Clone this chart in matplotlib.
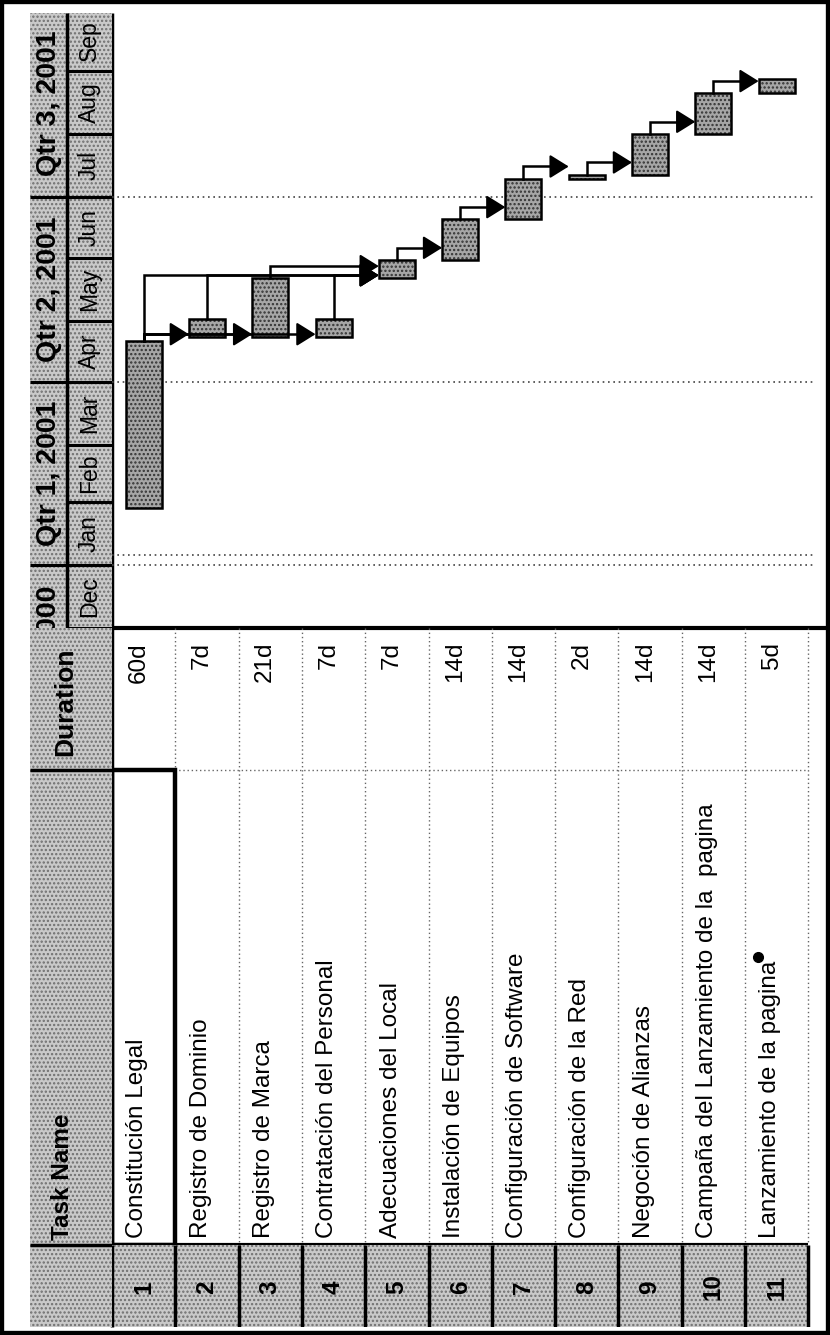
import numpy as np
import matplotlib
matplotlib.use("Agg")
import matplotlib.pyplot as plt
import matplotlib.dates as mdates
from matplotlib.patches import Rectangle

plt.rcParams['font.family'] = ['Liberation Sans', 'DejaVu Sans']
plt.rcParams['hatch.linewidth'] = 1.1

# --- datos del proyecto ---
tareas = ["Constitución Legal", "Registro de Dominio", "Registro de Marca",
          "Contratación del Personal", "Adecuaciones del Local",
          "Instalación de Equipos", "Configuración de Software",
          "Configuración de la Red", "Negoción de Alianzas",
          "Campaña del Lanzamiento de la  pagina", "Lanzamiento de la pagina"]
duracion = [60, 7, 21, 7, 7, 14, 14, 2, 14, 14, 5]
inicio = ["2001-01-29", "2001-04-23", "2001-04-23", "2001-04-23", "2001-05-22",
          "2001-05-31", "2001-06-20", "2001-07-10", "2001-07-12", "2001-08-01",
          "2001-08-21"]
predecesoras = [[], [1], [1], [1], [1, 2, 3, 4], [5], [6], [7], [8], [9], [10]]
trimestres = ["2000-10-01", "2001-01-01", "2001-04-01", "2001-07-01", "2001-10-01"]
meses = ["2000-12-01", "2001-01-01", "2001-02-01", "2001-03-01", "2001-04-01",
         "2001-05-01", "2001-06-01", "2001-07-01", "2001-08-01", "2001-09-01",
         "2001-10-01"]
lineas_punteadas = ["2001-01-01", "2001-01-06", "2001-04-01", "2001-07-01"]
vista = ["2000-12-01T00", "2001-09-29T12"]

W, H = 830, 1335
fig = plt.figure(figsize=(W / 100, H / 100), dpi=100)


def ejes(x0, y0, x1, y1):
    a = fig.add_axes([x0 / W, 1 - y1 / H, (x1 - x0) / W, (y1 - y0) / H])
    a.axis('off')
    return a


gris_cab = dict(facecolor='#c9c9c9', edgecolor='#6f6f6f', hatch='....', lw=0)
n = len(tareas)
ids = np.arange(1, n + 1)
xl = (0.5, 0.5 + 714 / 63.3)

ini = np.array(inicio, dtype='datetime64[D]')
fin = np.busday_offset(ini, np.array(duracion) - 1) + np.timedelta64(1, 'D')
ini_n = mdates.date2num(ini)
fin_n = mdates.date2num(fin)
lim = mdates.date2num(np.array(vista, dtype='datetime64[h]'))

# --- fondo / marco ---
bg = ejes(0, 0, W, H)
bg.set_xlim(0, W)
bg.set_ylim(H, 0)

# --- escala de tiempo ---
axh = ejes(30, 13, 112, 628)
axh.set_xlim(0, 82)
axh.set_ylim(*lim)
axh.add_patch(Rectangle((0, lim[0]), 82, lim[1] - lim[0], **gris_cab))
t_n = mdates.date2num(np.array(trimestres, dtype='datetime64[D]'))
m_n = mdates.date2num(np.array(meses, dtype='datetime64[D]'))
axh.vlines(37, lim[0], lim[1], color='k', lw=2.5)
axh.hlines(m_n[:-1], 37, 82, color='k', lw=2.2)
axh.hlines(t_n[:-1], 0, 82, color='k', lw=2.2)
for a, b in zip(m_n[:-1], m_n[1:]):
    axh.text(59.5, (a + b) / 2, mdates.num2date(a).strftime('%b'), rotation=90,
             ha='center', va='center', fontsize=16.5, clip_on=True)
for a, b in zip(t_n[:-1], t_n[1:]):
    dd = mdates.num2date(a)
    axh.text(18.5, (a + b) / 2, "Qtr %d, %d" % ((dd.month - 1) // 3 + 1, dd.year),
             rotation=90, ha='center', va='center', fontsize=20.5,
             fontweight='bold', clip_on=True)

# --- diagrama de Gantt ---
axg = ejes(112, 13, 826, 628)
axg.set_xlim(*xl)
axg.set_ylim(*lim)
for d in lineas_punteadas:
    axg.axhline(mdates.date2num(np.datetime64(d)), xmax=0.985, color='#444',
                ls=(0, (1, 2.2)), lw=1.2)
ancho = 0.57
axg.bar(ids, fin_n - ini_n, bottom=ini_n, width=ancho, color='#a6a6a6',
        edgecolor='#333333', hatch='....', lw=0, zorder=2)
axg.bar(ids, fin_n - ini_n, bottom=ini_n, width=ancho, fill=False,
        edgecolor='k', lw=1.8, zorder=3)
for s, preds in enumerate(predecesoras, start=1):
    for p in preds:
        pe = fin_n[p - 1]
        if pe >= ini_n[s - 1] - 0.5:
            yl = pe + 6
        else:
            yl = ini_n[s - 1] + 1.5
        punta = s - ancho / 2
        axg.plot([p, p, punta - 0.2], [pe, yl, yl], color='k', lw=1.8,
                 solid_joinstyle='miter', zorder=4)
        axg.annotate('', xy=(punta, yl), xytext=(punta - 0.22, yl),
                     arrowprops=dict(arrowstyle='-|>,head_length=0.45,head_width=0.28',
                                     mutation_scale=26, color='k', lw=1.5,
                                     shrinkA=0, shrinkB=0), zorder=5)

# --- tabla ---
axt = ejes(112, 628, 826, 1245)
axt.set_xlim(*xl)
axt.set_ylim(1245, 628)
axt.vlines(ids + 0.5, 628, 1245, color='#666', ls=(0, (1, 2)), lw=1)
axt.hlines(770, 0.5, n + 0.5, color='#666', ls=(0, (1, 2)), lw=1)
for i, (nom, d) in enumerate(zip(tareas, duracion), start=1):
    axt.text(i - 0.08, 642, "%dd" % d, rotation=90, ha='center', va='top',
             fontsize=17.5)
    axt.text(i - 0.1, 1238, nom, rotation=90, ha='center', va='bottom',
             fontsize=17.5)
axt.add_patch(Rectangle((0.5, 770), 1.0, 475, fill=False, edgecolor='k', lw=3.2,
                        zorder=5))
axt.plot([n - 0.3], [957], 'o', color='k', ms=7)

# --- identificadores ---
axi = ejes(112, 1245, 826, 1327)
axi.set_xlim(*xl)
axi.set_ylim(1327, 1245)
for i in ids:
    axi.add_patch(Rectangle((i - 0.5, 1245), 1, 82, **gris_cab))
    axi.text(i, 1287, str(i), rotation=90, ha='center', va='center',
             fontsize=17.5, fontweight='bold')
axi.vlines(np.append(ids - 0.5, n + 0.5), 1245, 1327, color='k', lw=2.5)

# --- cabecera de la tabla ---
axc = ejes(30, 628, 112, 1327)
axc.set_xlim(30, 112)
axc.set_ylim(1327, 628)
axc.add_patch(Rectangle((30, 628), 82, 699, **gris_cab))
axc.hlines([770, 1245], 30, 112, color='k', lw=2.5)
axc.text(65, 702, "Duration", rotation=90, ha='center', va='center',
         fontsize=19, fontweight='bold')
axc.text(62, 1240, "Task Name", rotation=90, ha='center', va='bottom',
         fontsize=17.5, fontweight='bold')

# lineas gruesas de separacion
bg.vlines(112, 13, 1327, color='k', lw=2.5)
bg.hlines(628, 30, 826, color='k', lw=3)
bg.hlines(1245, 30, 808, color='k', lw=3)
fig.add_artist(Rectangle((0, 0), 1, 1, transform=fig.transFigure, fill=False,
                         edgecolor='k', lw=6))

fig.savefig("out.png", dpi=100)
